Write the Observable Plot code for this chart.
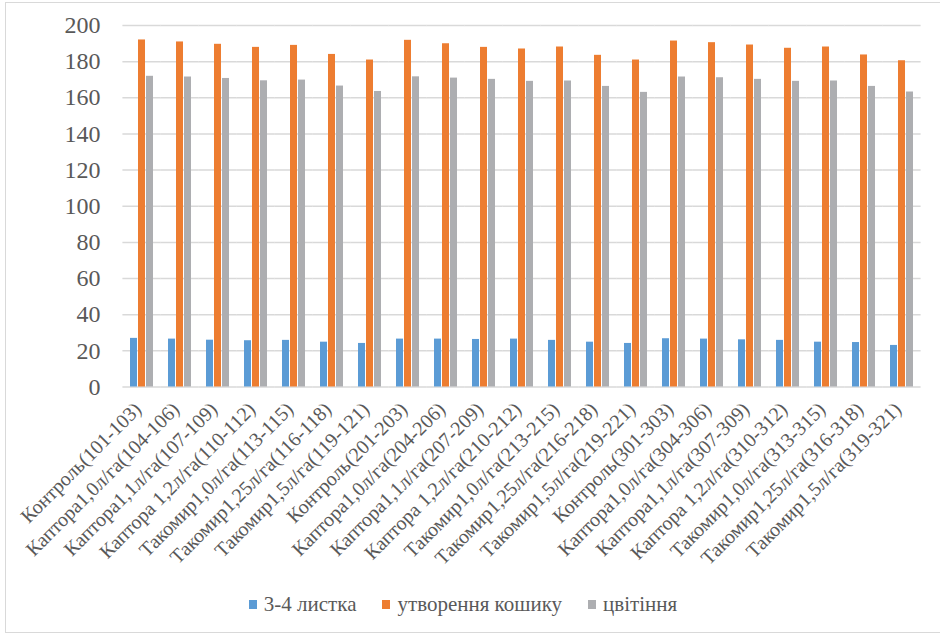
<!DOCTYPE html>
<html><head><meta charset="utf-8">
<script src="https://cdn.jsdelivr.net/npm/d3@7"></script>
<script src="https://cdn.jsdelivr.net/npm/@observablehq/plot@0.6"></script>
<style>
body{margin:0;background:#fff;width:940px;height:634px;overflow:hidden;position:relative;}
#frame{position:absolute;left:5px;top:2px;width:940px;height:631px;border:1px solid #d9d9d9;box-sizing:border-box;}
#chart{position:absolute;left:0;top:0;}
#legend{position:absolute;left:0;top:591px;width:926px;display:flex;justify-content:center;gap:26px;font-size:21px;color:#595959;line-height:26px;}
.item{display:flex;align-items:center;gap:7px}
.sw{width:8px;height:9px;display:inline-block}
</style></head><body>
<div id="frame"></div><div id="chart"></div><div id="legend"></div>
<script>
const categories = [
  "Контроль(101-103)","Каптора1,0л/га(104-106)","Каптора1,1л/га(107-109)","Каптора 1,2л/га(110-112)",
  "Такомир1,0л/га(113-115)","Такомир1,25л/га(116-118)","Такомир1,5л/га(119-121)",
  "Контроль(201-203)","Каптора1,0л/га(204-206)","Каптора1,1л/га(207-209)","Каптора 1,2л/га(210-212)",
  "Такомир1,0л/га(213-215)","Такомир1,25л/га(216-218)","Такомир1,5л/га(219-221)",
  "Контроль(301-303)","Каптора1,0л/га(304-306)","Каптора1,1л/га(307-309)","Каптора 1,2л/га(310-312)",
  "Такомир1,0л/га(313-315)","Такомир1,25л/га(316-318)","Такомир1,5л/га(319-321)"
];
const series = ["3-4 листка","утворення кошику","цвітіння"];
const leaf   = [26.9,26.5,25.9,25.6,25.8,24.8,24.1, 26.5,26.5,26.3,26.5,25.8,24.8,24.1, 26.7,26.5,26.1,25.8,24.8,24.6,23.0];
const basket = [192.0,190.9,189.6,187.9,189.0,184.0,180.9, 191.8,189.9,187.9,187.0,188.1,183.5,180.9, 191.4,190.5,189.2,187.4,188.1,183.7,180.5];
const bloom  = [171.9,171.5,170.7,169.4,169.8,166.5,163.5, 171.6,170.9,170.2,169.1,169.3,166.3,163.0, 171.5,171.1,170.2,169.1,169.3,166.3,163.2];
const colors = ["#5B9BD5","#ED7D31","#ADAEB1"];
const yTicks = [0,20,40,60,80,100,120,140,160,180,200];

const FONT = "Liberation Serif";
const values = [leaf, basket, bloom];
const data = categories.flatMap((c, i) => series.map((s, k) => ({cat: c, series: s, value: values[k][i]})));

const chart = Plot.plot({
  width: 940,
  height: 590,
  marginLeft: 119,
  marginRight: 15,
  marginTop: 25,
  marginBottom: 203.5,
  style: {color: "#595959", background: "transparent"},
  fx: {domain: categories, paddingInner: 0.39, paddingOuter: 0.195, label: null, axis: null},
  x: {domain: series, paddingInner: 0.15, paddingOuter: 0, axis: null},
  y: {domain: [0, 200], axis: null},
  color: {domain: series, range: colors},
  marks: [
    Plot.ruleY(yTicks, {stroke: "#d9d9d9", strokeWidth: 1.5, insetLeft: -7.6, insetRight: -7.6}),
    Plot.axisY(yTicks, {anchor: "left", tickSize: 0, tickPadding: 30, fontSize: 24, label: null}),
    Plot.axisFx({anchor: "bottom", tickRotate: -45, tickSize: 0, tickPadding: 19, dx: -4, fontSize: 20, label: null}),
    Plot.barY(data, {fx: "cat", x: "series", y: "value", fill: "series"})
  ]
});
document.getElementById("chart").appendChild(chart);

const legend = document.getElementById("legend");
series.forEach((s, k) => {
  const it = document.createElement("div");
  it.className = "item";
  const sw = document.createElement("span");
  sw.className = "sw";
  sw.style.background = colors[k];
  const t = document.createElement("span");
  t.textContent = s;
  it.appendChild(sw); it.appendChild(t);
  legend.appendChild(it);
});

document.body.style.setProperty("font-family", FONT, "important");
chart.style.setProperty("font-family", FONT, "important");
chart.setAttribute("font-family", FONT);
chart.querySelectorAll("g, text").forEach(el => {
  if (el.hasAttribute("font-family")) el.setAttribute("font-family", FONT);
  el.style.setProperty("font-family", FONT, "important");
});
legend.querySelectorAll("span").forEach(el => el.style.setProperty("font-family", FONT, "important"));
</script>
</body></html>
